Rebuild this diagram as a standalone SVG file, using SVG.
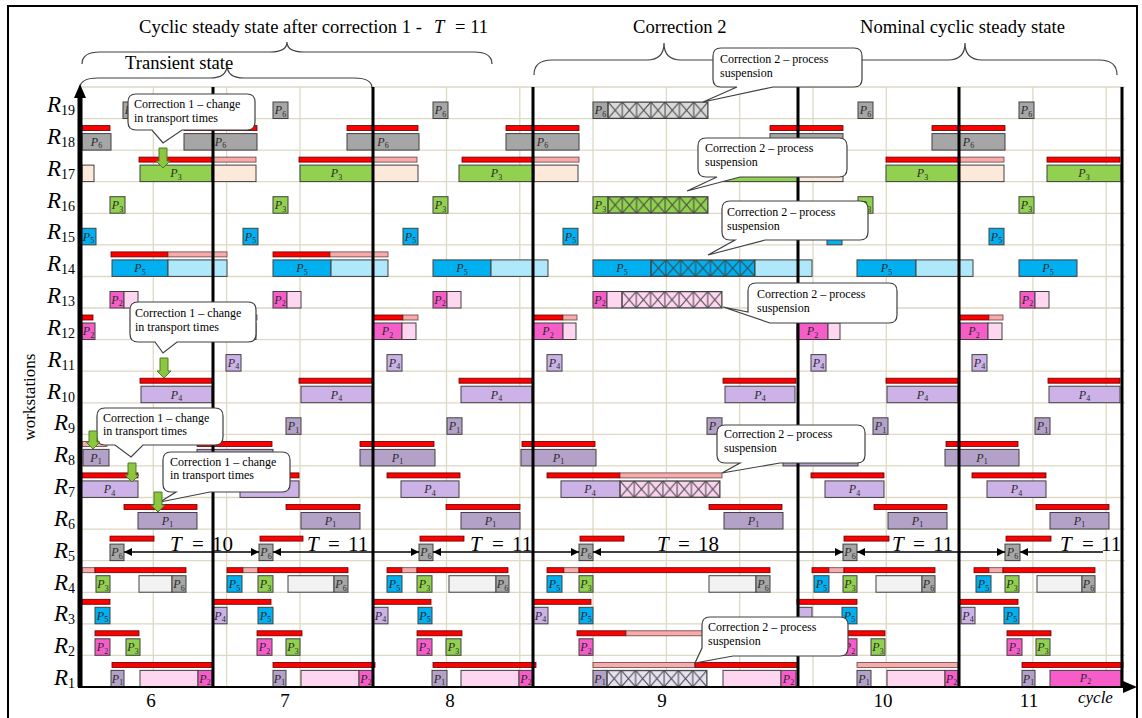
<svg xmlns="http://www.w3.org/2000/svg" width="1142" height="718" viewBox="0 0 1142 718">
<style>
.grid{stroke:#ddd9c3;stroke-width:1.3;fill:none}
.thick{stroke:#000;stroke-width:3;fill:none}
.row rect{stroke:#404040;stroke-width:1}
.row rect.r{fill:#ff0000;stroke:#5c0000;stroke-width:.8}
.row rect.k{fill:#f7abab;stroke:#6b4040;stroke-width:.8}
.g6{fill:#a6a6a6}.g3{fill:#92d050}.pc{fill:#fde9d9}.b5{fill:#00b0f0}.lb{fill:#aee8fa}.m2{fill:#f75dc9}.lp{fill:#ffd6f0}.v4{fill:#ccb2e6}.p1{fill:#b3a1c8}.lg{fill:#f2f2f2}
.pl{font-family:"Liberation Serif",serif;font-style:italic;font-size:12px;fill:#2a2a2a;text-anchor:middle;stroke:none}
.pl tspan{font-size:8px;font-style:normal}
.rl{font-family:"Liberation Serif",serif;font-style:italic;font-size:23px;fill:#000;text-anchor:end}
.rl tspan{font-size:14px;font-style:normal}
.tt{font-family:"Liberation Serif",serif;font-size:18.6px;fill:#000}
.co{fill:#fff;stroke:#404040;stroke-width:1.2}
.ct{font-family:"Liberation Serif",serif;font-size:12px;fill:#000}
.brace{fill:none;stroke:#404040;stroke-width:1.2}
.ga{fill:#8cc63f;stroke:#4f7a28;stroke-width:1}
.tm{font-family:"Liberation Serif",serif;font-size:21px;fill:#000}
.cn{font-family:"Liberation Serif",serif;font-size:19px;fill:#000;text-anchor:middle}
.arr{stroke:#000;stroke-width:1.3;fill:none}
</style>
<defs>
<marker id="ah" viewBox="0 0 10 10" refX="10" refY="5" markerWidth="8" markerHeight="8" markerUnits="userSpaceOnUse" orient="auto-start-reverse"><path d="M0,0L10,5L0,10z" fill="#000"/></marker>
<pattern id="x19" patternUnits="userSpaceOnUse" x="608" y="102" width="14.2857" height="16.5"><rect width="14.2857" height="16.5" fill="#d9d9d9" stroke="#404040" stroke-width="1"/><path d="M0,0L14.2857,16.5M0,16.5L14.2857,0" stroke="#404040" stroke-width="1"/></pattern>
<pattern id="x16" patternUnits="userSpaceOnUse" x="608" y="196.7" width="14.2857" height="16.5"><rect width="14.2857" height="16.5" fill="#92d050" stroke="#404040" stroke-width="1"/><path d="M0,0L14.2857,16.5M0,16.5L14.2857,0" stroke="#404040" stroke-width="1"/></pattern>
<pattern id="x14" patternUnits="userSpaceOnUse" x="651" y="259.9" width="14.857" height="16.5"><rect width="14.857" height="16.5" fill="#00b0f0" stroke="#404040" stroke-width="1"/><path d="M0,0L14.857,16.5M0,16.5L14.857,0" stroke="#404040" stroke-width="1"/></pattern>
<pattern id="x13" patternUnits="userSpaceOnUse" x="622" y="291.5" width="14.2857" height="16.5"><rect width="14.2857" height="16.5" fill="#ffd6f0" stroke="#404040" stroke-width="1"/><path d="M0,0L14.2857,16.5M0,16.5L14.2857,0" stroke="#404040" stroke-width="1"/></pattern>
<pattern id="x7" patternUnits="userSpaceOnUse" x="620" y="480.9" width="14.2857" height="16.5"><rect width="14.2857" height="16.5" fill="#f9d3ee" stroke="#404040" stroke-width="1"/><path d="M0,0L14.2857,16.5M0,16.5L14.2857,0" stroke="#404040" stroke-width="1"/></pattern>
<pattern id="x1" patternUnits="userSpaceOnUse" x="607" y="670.4" width="14.2857" height="16.5"><rect width="14.2857" height="16.5" fill="#e6e0f0" stroke="#404040" stroke-width="1"/><path d="M0,0L14.2857,16.5M0,16.5L14.2857,0" stroke="#404040" stroke-width="1"/></pattern>
</defs>
<rect x="0" y="0" width="1142" height="718" fill="#fff"/>
<rect x="8" y="6" width="1129" height="740" fill="none" stroke="#000" stroke-width="2"/>

<g id="grid" class="grid">
<path d="M80,655.4H1125M80,623.8H1125M80,592.3H1125M80,560.7H1125M80,529.1H1125M80,497.5H1125M80,465.9H1125M80,434.4H1125M80,402.8H1125M80,371.2H1125M80,339.6H1125M80,308H1125M80,276.5H1125M80,244.9H1125M80,213.3H1125M80,181.7H1125M80,150.1H1125M80,118.6H1125M80,87H1125"/>
<path d="M153.3,87V687M226.6,87V687M300,87V687M373.2,87V687M446.5,87V687M519.8,87V687M593,87V687M666.4,87V687M739.7,87V687M813,87V687M886.3,87V687M959.6,87V687M1032.9,87V687M1106.2,87V687"/>
</g>

<g id="titles">
<text class="tt" x="139" y="33">Cyclic steady state after correction 1 -<tspan x="434" font-style="italic">T</tspan><tspan x="455">= 11</tspan></text>
<text class="tt" x="633" y="33">Correction 2</text>
<text class="tt" x="860" y="33">Nominal cyclic steady state</text>
<text class="tt" x="125" y="69">Transient state</text>
<path class="brace" d="M82,64Q82,52 100,52H270Q287,52 287,42Q287,52 304,52H474Q492,52 492,64"/>
<path class="brace" d="M80,88Q80,78 98,78H210Q227,78 227,65Q227,78 244,78H354Q372,78 372,88"/>
<path class="brace" d="M534,75Q534,60 552,60H647Q664,60 664,43Q664,60 681,60H780Q798,60 798,75"/>
<path class="brace" d="M813,75Q813,60 831,60H948Q965,60 965,43Q965,60 982,60H1099Q1117,60 1117,75"/>
</g>

<g id="labels">
<text class="rl" x="75" y="112">R<tspan dy="3">19</tspan></text>
<text class="rl" x="75" y="143.8">R<tspan dy="3">18</tspan></text>
<text class="rl" x="75" y="175.7">R<tspan dy="3">17</tspan></text>
<text class="rl" x="75" y="207.5">R<tspan dy="3">16</tspan></text>
<text class="rl" x="75" y="239.3">R<tspan dy="3">15</tspan></text>
<text class="rl" x="75" y="271.2">R<tspan dy="3">14</tspan></text>
<text class="rl" x="75" y="303">R<tspan dy="3">13</tspan></text>
<text class="rl" x="75" y="334.8">R<tspan dy="3">12</tspan></text>
<text class="rl" x="75" y="366.6">R<tspan dy="3">11</tspan></text>
<text class="rl" x="75" y="398.5">R<tspan dy="3">10</tspan></text>
<text class="rl" x="75" y="430.3">R<tspan dy="3">9</tspan></text>
<text class="rl" x="75" y="462.1">R<tspan dy="3">8</tspan></text>
<text class="rl" x="75" y="494">R<tspan dy="3">7</tspan></text>
<text class="rl" x="75" y="525.8">R<tspan dy="3">6</tspan></text>
<text class="rl" x="75" y="557.6">R<tspan dy="3">5</tspan></text>
<text class="rl" x="75" y="589.5">R<tspan dy="3">4</tspan></text>
<text class="rl" x="75" y="621.3">R<tspan dy="3">3</tspan></text>
<text class="rl" x="75" y="653.1">R<tspan dy="3">2</tspan></text>
<text class="rl" x="75" y="685">R<tspan dy="3">1</tspan></text>
<text transform="translate(35,397) rotate(-90)" font-family="Liberation Serif, serif" font-size="17" text-anchor="middle">workstations</text>
<text class="cn" x="151" y="707">6</text>
<text class="cn" x="285" y="707">7</text>
<text class="cn" x="450" y="707">8</text>
<text class="cn" x="662" y="707">9</text>
<text class="cn" x="883" y="707">10</text>
<text class="cn" x="1029" y="707">11</text>
<text x="1078" y="703" font-family="Liberation Serif, serif" font-style="italic" font-size="17">cycle</text>
</g>

<g id="R19" class="row">
<rect class="g6" x="123" y="102" width="15" height="16.5"/><text class="pl" x="130.5" y="114.3">P<tspan dy="2.5">6</tspan></text>
<rect class="g6" x="273" y="102" width="15" height="16.5"/><text class="pl" x="280.5" y="114.3">P<tspan dy="2.5">6</tspan></text>
<rect class="g6" x="433" y="102" width="15" height="16.5"/><text class="pl" x="440.5" y="114.3">P<tspan dy="2.5">6</tspan></text>
<rect class="g6" x="593" y="102" width="15" height="16.5"/><text class="pl" x="600.5" y="114.3">P<tspan dy="2.5">6</tspan></text>
<rect x="608" y="102" width="100" height="16.5" fill="url(#x19)"/>
<rect class="g6" x="858" y="102" width="15" height="16.5"/><text class="pl" x="865.5" y="114.3">P<tspan dy="2.5">6</tspan></text>
<rect class="g6" x="1019" y="102" width="15" height="16.5"/><text class="pl" x="1026.5" y="114.3">P<tspan dy="2.5">6</tspan></text>
</g>

<g id="R18" class="row">
<rect class="r" x="82" y="125.6" width="28" height="5"/><rect class="g6" x="82" y="133.6" width="29" height="16.5"/><text class="pl" x="96.5" y="145.9">P<tspan dy="2.5">6</tspan></text>
<rect class="r" x="184" y="125.6" width="73" height="5"/><rect class="g6" x="184" y="133.6" width="73" height="16.5"/><text class="pl" x="220.5" y="145.9">P<tspan dy="2.5">6</tspan></text>
<rect class="r" x="347" y="125.6" width="71" height="5"/><rect class="g6" x="347" y="133.6" width="72" height="16.5"/><text class="pl" x="383" y="145.9">P<tspan dy="2.5">6</tspan></text>
<rect class="r" x="506" y="125.6" width="73" height="5"/><rect class="g6" x="506" y="133.6" width="73" height="16.5"/><text class="pl" x="542.5" y="145.9">P<tspan dy="2.5">6</tspan></text>
<rect class="r" x="770" y="125.6" width="73" height="5"/><rect class="g6" x="770" y="133.6" width="73" height="16.5"/>
<rect class="r" x="932" y="125.6" width="73" height="5"/><rect class="g6" x="932" y="133.6" width="73" height="16.5"/><text class="pl" x="968.5" y="145.9">P<tspan dy="2.5">6</tspan></text>
</g>

<g id="R17" class="row">
<rect class="pc" x="82" y="165.1" width="12" height="16.5"/>
<rect class="r" x="139" y="157.1" width="73" height="5"/><rect class="k" x="212" y="157.1" width="44" height="5"/><rect class="g3" x="140" y="165.1" width="72" height="16.5"/><rect class="pc" x="212" y="165.1" width="44" height="16.5"/><text class="pl" x="176" y="177.4">P<tspan dy="2.5">3</tspan></text>
<rect class="r" x="299" y="157.1" width="74" height="5"/><rect class="k" x="373" y="157.1" width="44" height="5"/><rect class="g3" x="300" y="165.1" width="73" height="16.5"/><rect class="pc" x="373" y="165.1" width="45" height="16.5"/><text class="pl" x="336.5" y="177.4">P<tspan dy="2.5">3</tspan></text>
<rect class="r" x="462" y="157.1" width="72" height="5"/><rect class="k" x="534" y="157.1" width="45" height="5"/><rect class="g3" x="459" y="165.1" width="75" height="16.5"/><rect class="pc" x="534" y="165.1" width="44" height="16.5"/><text class="pl" x="496.5" y="177.4">P<tspan dy="2.5">3</tspan></text>
<rect class="r" x="723" y="157.1" width="75" height="5"/><rect class="k" x="798" y="157.1" width="45" height="5"/><rect class="g3" x="723" y="165.1" width="75" height="16.5"/><rect class="pc" x="798" y="165.1" width="45" height="16.5"/>
<rect class="r" x="886" y="157.1" width="74" height="5"/><rect class="k" x="960" y="157.1" width="44" height="5"/><rect class="g3" x="886" y="165.1" width="73" height="16.5"/><rect class="pc" x="959" y="165.1" width="45" height="16.5"/><text class="pl" x="922.5" y="177.4">P<tspan dy="2.5">3</tspan></text>
<rect class="r" x="1047" y="157.1" width="73" height="5"/><rect class="g3" x="1047" y="165.1" width="74" height="16.5"/><text class="pl" x="1084" y="177.4">P<tspan dy="2.5">3</tspan></text>
</g>

<g id="R16" class="row">
<rect class="g3" x="110" y="196.7" width="15" height="16.5"/><text class="pl" x="117.5" y="209">P<tspan dy="2.5">3</tspan></text>
<rect class="g3" x="273" y="196.7" width="15" height="16.5"/><text class="pl" x="280.5" y="209">P<tspan dy="2.5">3</tspan></text>
<rect class="g3" x="433" y="196.7" width="15" height="16.5"/><text class="pl" x="440.5" y="209">P<tspan dy="2.5">3</tspan></text>
<rect class="g3" x="593" y="196.7" width="15" height="16.5"/><text class="pl" x="600.5" y="209">P<tspan dy="2.5">3</tspan></text>
<rect x="608" y="196.7" width="100" height="16.5" fill="url(#x16)"/>
<rect class="g3" x="858" y="196.7" width="15" height="16.5"/><text class="pl" x="865.5" y="209">P<tspan dy="2.5">3</tspan></text>
<rect class="g3" x="1019" y="196.7" width="15" height="16.5"/><text class="pl" x="1026.5" y="209">P<tspan dy="2.5">3</tspan></text>
</g>

<g id="R15" class="row">
<rect class="b5" x="81" y="228.3" width="15" height="16.5"/><text class="pl" x="88.5" y="240.6">P<tspan dy="2.5">5</tspan></text>
<rect class="b5" x="243" y="228.3" width="15" height="16.5"/><text class="pl" x="250.5" y="240.6">P<tspan dy="2.5">5</tspan></text>
<rect class="b5" x="403" y="228.3" width="15" height="16.5"/><text class="pl" x="410.5" y="240.6">P<tspan dy="2.5">5</tspan></text>
<rect class="b5" x="563" y="228.3" width="15" height="16.5"/><text class="pl" x="570.5" y="240.6">P<tspan dy="2.5">5</tspan></text>
<rect class="b5" x="827" y="228.3" width="15" height="16.5"/>
<rect class="b5" x="989" y="228.3" width="15" height="16.5"/><text class="pl" x="996.5" y="240.6">P<tspan dy="2.5">5</tspan></text>
</g>

<g id="R14" class="row">
<rect class="r" x="111" y="251.9" width="57" height="5"/><rect class="k" x="168" y="251.9" width="59" height="5"/><rect class="b5" x="112" y="259.9" width="56" height="16.5"/><rect class="lb" x="168" y="259.9" width="59" height="16.5"/><text class="pl" x="140" y="272.2">P<tspan dy="2.5">5</tspan></text>
<rect class="r" x="273" y="251.9" width="57" height="5"/><rect class="k" x="330" y="251.9" width="58" height="5"/><rect class="b5" x="273" y="259.9" width="58" height="16.5"/><rect class="lb" x="331" y="259.9" width="57" height="16.5"/><text class="pl" x="302" y="272.2">P<tspan dy="2.5">5</tspan></text>
<rect class="b5" x="433" y="259.9" width="58" height="16.5"/><rect class="lb" x="491" y="259.9" width="57" height="16.5"/><text class="pl" x="462" y="272.2">P<tspan dy="2.5">5</tspan></text>
<rect class="b5" x="593" y="259.9" width="58" height="16.5"/><rect x="651" y="259.9" width="104" height="16.5" fill="url(#x14)"/><rect class="lb" x="755" y="259.9" width="57" height="16.5"/><text class="pl" x="622" y="272.2">P<tspan dy="2.5">5</tspan></text>
<rect class="b5" x="857" y="259.9" width="59" height="16.5"/><rect class="lb" x="916" y="259.9" width="57" height="16.5"/><text class="pl" x="886.5" y="272.2">P<tspan dy="2.5">5</tspan></text>
<rect class="b5" x="1019" y="259.9" width="58" height="16.5"/><text class="pl" x="1048" y="272.2">P<tspan dy="2.5">5</tspan></text>
</g>

<g id="R13" class="row">
<rect class="m2" x="110" y="291.5" width="14" height="16.5"/><rect class="lp" x="124" y="291.5" width="14" height="16.5"/><text class="pl" x="117" y="303.8">P<tspan dy="2.5">2</tspan></text>
<rect class="m2" x="273" y="291.5" width="14" height="16.5"/><rect class="lp" x="287" y="291.5" width="14" height="16.5"/><text class="pl" x="280" y="303.8">P<tspan dy="2.5">2</tspan></text>
<rect class="m2" x="433" y="291.5" width="14" height="16.5"/><rect class="lp" x="447" y="291.5" width="14" height="16.5"/><text class="pl" x="440" y="303.8">P<tspan dy="2.5">2</tspan></text>
<rect class="m2" x="593" y="291.5" width="14" height="16.5"/><rect class="lp" x="607" y="291.5" width="15" height="16.5"/><rect x="622" y="291.5" width="100" height="16.5" fill="url(#x13)"/><text class="pl" x="600" y="303.8">P<tspan dy="2.5">2</tspan></text>
<rect class="m2" x="858" y="291.5" width="14" height="16.5"/><rect class="lp" x="872" y="291.5" width="14" height="16.5"/>
<rect class="m2" x="1020" y="291.5" width="15" height="16.5"/><rect class="lp" x="1035" y="291.5" width="14" height="16.5"/><text class="pl" x="1027.5" y="303.8">P<tspan dy="2.5">2</tspan></text>
</g>

<g id="R12" class="row">
<rect class="r" x="82" y="315" width="11" height="5"/><rect class="m2" x="82" y="323" width="13" height="16.5"/><text class="pl" x="88.5" y="335.3">P<tspan dy="2.5">2</tspan></text>
<rect class="r" x="213" y="315" width="29" height="5"/><rect class="k" x="242" y="315" width="15" height="5"/><rect class="m2" x="213" y="323" width="29" height="16.5"/><rect class="lp" x="242" y="323" width="14" height="16.5"/>
<rect class="r" x="373" y="315" width="30" height="5"/><rect class="k" x="403" y="315" width="15" height="5"/><rect class="m2" x="373" y="323" width="29" height="16.5"/><rect class="lp" x="402" y="323" width="14" height="16.5"/><text class="pl" x="387.5" y="335.3">P<tspan dy="2.5">2</tspan></text>
<rect class="r" x="534" y="315" width="29" height="5"/><rect class="k" x="563" y="315" width="14" height="5"/><rect class="m2" x="533" y="323" width="30" height="16.5"/><rect class="lp" x="563" y="323" width="13" height="16.5"/><text class="pl" x="548" y="335.3">P<tspan dy="2.5">2</tspan></text>
<rect class="r" x="797" y="315" width="31" height="5"/><rect class="k" x="828" y="315" width="14" height="5"/><rect class="m2" x="797" y="323" width="31" height="16.5"/><rect class="lp" x="828" y="323" width="12" height="16.5"/><text class="pl" x="812.5" y="335.3">P<tspan dy="2.5">2</tspan></text>
<rect class="r" x="960" y="315" width="29" height="5"/><rect class="k" x="989" y="315" width="14" height="5"/><rect class="m2" x="960" y="323" width="28" height="16.5"/><rect class="lp" x="988" y="323" width="14" height="16.5"/><text class="pl" x="974" y="335.3">P<tspan dy="2.5">2</tspan></text>
</g>

<g id="R11" class="row">
<rect class="v4" x="226" y="354.6" width="15" height="16.5"/><text class="pl" x="233.5" y="366.9">P<tspan dy="2.5">4</tspan></text>
<rect class="v4" x="387" y="354.6" width="15" height="16.5"/><text class="pl" x="394.5" y="366.9">P<tspan dy="2.5">4</tspan></text>
<rect class="v4" x="547" y="354.6" width="15" height="16.5"/><text class="pl" x="554.5" y="366.9">P<tspan dy="2.5">4</tspan></text>
<rect class="v4" x="811" y="354.6" width="15" height="16.5"/><text class="pl" x="818.5" y="366.9">P<tspan dy="2.5">4</tspan></text>
<rect class="v4" x="972" y="354.6" width="15" height="16.5"/><text class="pl" x="979.5" y="366.9">P<tspan dy="2.5">4</tspan></text>
</g>

<g id="R10" class="row">
<rect class="r" x="140" y="378.2" width="72" height="5"/><rect class="v4" x="141" y="386.2" width="71" height="16.5"/><text class="pl" x="176.5" y="398.5">P<tspan dy="2.5">4</tspan></text>
<rect class="r" x="299" y="378.2" width="73" height="5"/><rect class="v4" x="301" y="386.2" width="71" height="16.5"/><text class="pl" x="336.5" y="398.5">P<tspan dy="2.5">4</tspan></text>
<rect class="r" x="459" y="378.2" width="73" height="5"/><rect class="v4" x="461" y="386.2" width="71" height="16.5"/><text class="pl" x="496.5" y="398.5">P<tspan dy="2.5">4</tspan></text>
<rect class="r" x="723" y="378.2" width="73" height="5"/><rect class="v4" x="725" y="386.2" width="70" height="16.5"/><text class="pl" x="760" y="398.5">P<tspan dy="2.5">4</tspan></text>
<rect class="r" x="886" y="378.2" width="72" height="5"/><rect class="v4" x="887" y="386.2" width="71" height="16.5"/><text class="pl" x="922.5" y="398.5">P<tspan dy="2.5">4</tspan></text>
<rect class="r" x="1048" y="378.2" width="72" height="5"/><rect class="v4" x="1049" y="386.2" width="71" height="16.5"/><text class="pl" x="1084.5" y="398.5">P<tspan dy="2.5">4</tspan></text>
</g>

<g id="R9" class="row">
<rect class="p1" x="286" y="417.8" width="15" height="16.5"/><text class="pl" x="293.5" y="430.1">P<tspan dy="2.5">1</tspan></text>
<rect class="p1" x="447" y="417.8" width="15" height="16.5"/><text class="pl" x="454.5" y="430.1">P<tspan dy="2.5">1</tspan></text>
<rect class="p1" x="707" y="417.8" width="15" height="16.5"/><text class="pl" x="714.5" y="430.1">P<tspan dy="2.5">1</tspan></text>
<rect class="p1" x="873" y="417.8" width="15" height="16.5"/><text class="pl" x="880.5" y="430.1">P<tspan dy="2.5">1</tspan></text>
<rect class="p1" x="1035" y="417.8" width="15" height="16.5"/><text class="pl" x="1042.5" y="430.1">P<tspan dy="2.5">1</tspan></text>
</g>

<g id="R8" class="row">
<rect class="k" x="82" y="441.4" width="25" height="5"/><rect class="p1" x="83" y="449.4" width="26" height="16.5"/><text class="pl" x="96" y="461.7">P<tspan dy="2.5">1</tspan></text>
<rect class="r" x="197" y="441.4" width="75" height="5"/><rect class="p1" x="197" y="449.4" width="76" height="16.5"/>
<rect class="r" x="360" y="441.4" width="74" height="5"/><rect class="p1" x="360" y="449.4" width="75" height="16.5"/><text class="pl" x="397.5" y="461.7">P<tspan dy="2.5">1</tspan></text>
<rect class="r" x="522" y="441.4" width="73" height="5"/><rect class="p1" x="521" y="449.4" width="75" height="16.5"/><text class="pl" x="558.5" y="461.7">P<tspan dy="2.5">1</tspan></text>
<rect class="r" x="783" y="441.4" width="75" height="5"/><rect class="p1" x="783" y="449.4" width="75" height="16.5"/>
<rect class="r" x="946" y="441.4" width="72" height="5"/><rect class="p1" x="945" y="449.4" width="74" height="16.5"/><text class="pl" x="982" y="461.7">P<tspan dy="2.5">1</tspan></text>
</g>

<g id="R7" class="row">
<rect class="r" x="82" y="472.9" width="56" height="5"/><rect class="v4" x="81" y="480.9" width="57" height="16.5"/><text class="pl" x="109.5" y="493.2">P<tspan dy="2.5">4</tspan></text>
<rect class="r" x="227" y="472.9" width="72" height="5"/><rect class="v4" x="240" y="480.9" width="59" height="16.5"/>
<rect class="r" x="387" y="472.9" width="73" height="5"/><rect class="v4" x="401" y="480.9" width="58" height="16.5"/><text class="pl" x="430" y="493.2">P<tspan dy="2.5">4</tspan></text>
<rect class="r" x="547" y="472.9" width="73" height="5"/><rect class="k" x="620" y="472.9" width="102" height="5"/><rect class="v4" x="561" y="480.9" width="59" height="16.5"/><rect x="620" y="480.9" width="100" height="16.5" fill="url(#x7)"/><text class="pl" x="590" y="493.2">P<tspan dy="2.5">4</tspan></text>
<rect class="r" x="811" y="472.9" width="73" height="5"/><rect class="v4" x="825" y="480.9" width="59" height="16.5"/><text class="pl" x="854.5" y="493.2">P<tspan dy="2.5">4</tspan></text>
<rect class="r" x="972" y="472.9" width="74" height="5"/><rect class="v4" x="987" y="480.9" width="59" height="16.5"/><text class="pl" x="1016.5" y="493.2">P<tspan dy="2.5">4</tspan></text>
</g>

<g id="R6" class="row">
<rect class="r" x="124" y="504.5" width="73" height="5"/><rect class="p1" x="138" y="512.5" width="59" height="16.5"/><text class="pl" x="167.5" y="524.8">P<tspan dy="2.5">1</tspan></text>
<rect class="r" x="286" y="504.5" width="74" height="5"/><rect class="p1" x="301" y="512.5" width="59" height="16.5"/><text class="pl" x="330.5" y="524.8">P<tspan dy="2.5">1</tspan></text>
<rect class="r" x="446" y="504.5" width="74" height="5"/><rect class="p1" x="461" y="512.5" width="59" height="16.5"/><text class="pl" x="490.5" y="524.8">P<tspan dy="2.5">1</tspan></text>
<rect class="r" x="709" y="504.5" width="73" height="5"/><rect class="p1" x="724" y="512.5" width="59" height="16.5"/><text class="pl" x="753.5" y="524.8">P<tspan dy="2.5">1</tspan></text>
<rect class="r" x="874" y="504.5" width="73" height="5"/><rect class="p1" x="888" y="512.5" width="59" height="16.5"/><text class="pl" x="917.5" y="524.8">P<tspan dy="2.5">1</tspan></text>
<rect class="r" x="1036" y="504.5" width="73" height="5"/><rect class="p1" x="1050" y="512.5" width="59" height="16.5"/><text class="pl" x="1079.5" y="524.8">P<tspan dy="2.5">1</tspan></text>
</g>

<g id="R5" class="row">
<rect class="r" x="110" y="536.1" width="44" height="5"/><rect class="g6" x="110" y="544.1" width="14" height="16.5"/><text class="pl" x="117" y="556.4">P<tspan dy="2.5">6</tspan></text>
<rect class="r" x="260" y="536.1" width="43" height="5"/><rect class="g6" x="259" y="544.1" width="14" height="16.5"/><text class="pl" x="266" y="556.4">P<tspan dy="2.5">6</tspan></text>
<rect class="r" x="420" y="536.1" width="44" height="5"/><rect class="g6" x="419" y="544.1" width="14" height="16.5"/><text class="pl" x="426" y="556.4">P<tspan dy="2.5">6</tspan></text>
<rect class="r" x="580" y="536.1" width="44" height="5"/><rect class="g6" x="579" y="544.1" width="14" height="16.5"/><text class="pl" x="586" y="556.4">P<tspan dy="2.5">6</tspan></text>
<rect class="r" x="844" y="536.1" width="45" height="5"/><rect class="g6" x="843" y="544.1" width="14" height="16.5"/><text class="pl" x="850" y="556.4">P<tspan dy="2.5">6</tspan></text>
<rect class="r" x="1006" y="536.1" width="45" height="5"/><rect class="g6" x="1005" y="544.1" width="15" height="16.5"/><text class="pl" x="1012.5" y="556.4">P<tspan dy="2.5">6</tspan></text>
</g>

<g id="R4" class="row">
<rect class="k" x="82" y="567.7" width="13" height="5"/><rect class="r" x="95" y="567.7" width="91" height="5"/>
<rect class="g3" x="96" y="575.7" width="14" height="16.5"/><text class="pl" x="103" y="588">P<tspan dy="2.5">3</tspan></text>
<rect class="lg" x="139" y="575.7" width="33" height="16.5"/><rect class="g6" x="172" y="575.7" width="14" height="16.5"/><text class="pl" x="179" y="588">P<tspan dy="2.5">6</tspan></text>
<rect class="r" x="227" y="567.7" width="16" height="5"/><rect class="k" x="243" y="567.7" width="15" height="5"/><rect class="r" x="258" y="567.7" width="90" height="5"/>
<rect class="b5" x="227" y="575.7" width="15" height="16.5"/><text class="pl" x="234.5" y="588">P<tspan dy="2.5">5</tspan></text>
<rect class="g3" x="258" y="575.7" width="15" height="16.5"/><text class="pl" x="265.5" y="588">P<tspan dy="2.5">3</tspan></text>
<rect class="lg" x="288" y="575.7" width="46" height="16.5"/><rect class="g6" x="334" y="575.7" width="14" height="16.5"/><text class="pl" x="341" y="588">P<tspan dy="2.5">6</tspan></text>
<rect class="r" x="387" y="567.7" width="15" height="5"/><rect class="k" x="402" y="567.7" width="15" height="5"/><rect class="r" x="417" y="567.7" width="91" height="5"/>
<rect class="b5" x="387" y="575.7" width="15" height="16.5"/><text class="pl" x="394.5" y="588">P<tspan dy="2.5">5</tspan></text>
<rect class="g3" x="417" y="575.7" width="15" height="16.5"/><text class="pl" x="424.5" y="588">P<tspan dy="2.5">3</tspan></text>
<rect class="lg" x="449" y="575.7" width="47" height="16.5"/><rect class="g6" x="496" y="575.7" width="13" height="16.5"/><text class="pl" x="502.5" y="588">P<tspan dy="2.5">6</tspan></text>
<rect class="r" x="547" y="567.7" width="17" height="5"/><rect class="k" x="564" y="567.7" width="15" height="5"/><rect class="r" x="579" y="567.7" width="191" height="5"/>
<rect class="b5" x="547" y="575.7" width="15" height="16.5"/><text class="pl" x="554.5" y="588">P<tspan dy="2.5">5</tspan></text>
<rect class="g3" x="579" y="575.7" width="14" height="16.5"/><text class="pl" x="586" y="588">P<tspan dy="2.5">3</tspan></text>
<rect class="lg" x="709" y="575.7" width="47" height="16.5"/><rect class="g6" x="756" y="575.7" width="14" height="16.5"/><text class="pl" x="763" y="588">P<tspan dy="2.5">6</tspan></text>
<rect class="r" x="812" y="567.7" width="17" height="5"/><rect class="k" x="829" y="567.7" width="15" height="5"/><rect class="r" x="844" y="567.7" width="91" height="5"/>
<rect class="b5" x="814" y="575.7" width="15" height="16.5"/><text class="pl" x="821.5" y="588">P<tspan dy="2.5">5</tspan></text>
<rect class="g3" x="843" y="575.7" width="14" height="16.5"/><text class="pl" x="850" y="588">P<tspan dy="2.5">3</tspan></text>
<rect class="lg" x="876" y="575.7" width="46" height="16.5"/><rect class="g6" x="922" y="575.7" width="13" height="16.5"/><text class="pl" x="928.5" y="588">P<tspan dy="2.5">6</tspan></text>
<rect class="r" x="974" y="567.7" width="15" height="5"/><rect class="k" x="989" y="567.7" width="14" height="5"/><rect class="r" x="1003" y="567.7" width="92" height="5"/>
<rect class="b5" x="976" y="575.7" width="15" height="16.5"/><text class="pl" x="983.5" y="588">P<tspan dy="2.5">5</tspan></text>
<rect class="g3" x="1005" y="575.7" width="14" height="16.5"/><text class="pl" x="1012" y="588">P<tspan dy="2.5">3</tspan></text>
<rect class="lg" x="1037" y="575.7" width="45" height="16.5"/><rect class="g6" x="1082" y="575.7" width="13" height="16.5"/><text class="pl" x="1088.5" y="588">P<tspan dy="2.5">6</tspan></text>
</g>

<g id="R3" class="row">
<rect class="r" x="82" y="599.3" width="28" height="5"/><rect class="b5" x="95" y="607.3" width="15" height="16.5"/><text class="pl" x="102.5" y="619.6">P<tspan dy="2.5">5</tspan></text>
<rect class="r" x="213" y="599.3" width="58" height="5"/><rect class="v4" x="213" y="607.3" width="14" height="16.5"/><text class="pl" x="220" y="619.6">P<tspan dy="2.5">4</tspan></text><rect class="b5" x="258" y="607.3" width="15" height="16.5"/><text class="pl" x="265.5" y="619.6">P<tspan dy="2.5">5</tspan></text>
<rect class="r" x="373" y="599.3" width="58" height="5"/><rect class="v4" x="373" y="607.3" width="15" height="16.5"/><text class="pl" x="380.5" y="619.6">P<tspan dy="2.5">4</tspan></text><rect class="b5" x="418" y="607.3" width="14" height="16.5"/><text class="pl" x="425" y="619.6">P<tspan dy="2.5">5</tspan></text>
<rect class="r" x="533" y="599.3" width="58" height="5"/><rect class="v4" x="533" y="607.3" width="15" height="16.5"/><text class="pl" x="540.5" y="619.6">P<tspan dy="2.5">4</tspan></text><rect class="b5" x="579" y="607.3" width="14" height="16.5"/><text class="pl" x="586" y="619.6">P<tspan dy="2.5">5</tspan></text>
<rect class="r" x="797" y="599.3" width="60" height="5"/><rect class="v4" x="798" y="607.3" width="14" height="16.5"/><rect class="b5" x="842" y="607.3" width="15" height="16.5"/><text class="pl" x="849.5" y="619.6">P<tspan dy="2.5">5</tspan></text>
<rect class="r" x="960" y="599.3" width="58" height="5"/><rect class="v4" x="961" y="607.3" width="14" height="16.5"/><text class="pl" x="968" y="619.6">P<tspan dy="2.5">4</tspan></text><rect class="b5" x="1004" y="607.3" width="15" height="16.5"/><text class="pl" x="1011.5" y="619.6">P<tspan dy="2.5">5</tspan></text>
</g>

<g id="R2" class="row">
<rect class="r" x="95" y="630.8" width="44" height="5"/><rect class="m2" x="95" y="638.8" width="15" height="16.5"/><text class="pl" x="102.5" y="651.1">P<tspan dy="2.5">2</tspan></text><rect class="g3" x="126" y="638.8" width="14" height="16.5"/><text class="pl" x="133" y="651.1">P<tspan dy="2.5">3</tspan></text>
<rect class="r" x="257" y="630.8" width="45" height="5"/><rect class="m2" x="257" y="638.8" width="15" height="16.5"/><text class="pl" x="264.5" y="651.1">P<tspan dy="2.5">2</tspan></text><rect class="g3" x="286" y="638.8" width="14" height="16.5"/><text class="pl" x="293" y="651.1">P<tspan dy="2.5">3</tspan></text>
<rect class="r" x="417" y="630.8" width="45" height="5"/><rect class="m2" x="417" y="638.8" width="15" height="16.5"/><text class="pl" x="424.5" y="651.1">P<tspan dy="2.5">2</tspan></text><rect class="g3" x="446" y="638.8" width="15" height="16.5"/><text class="pl" x="453.5" y="651.1">P<tspan dy="2.5">3</tspan></text>
<rect class="r" x="577" y="630.8" width="49" height="5"/><rect class="k" x="626" y="630.8" width="102" height="5"/><rect class="m2" x="579" y="638.8" width="14" height="16.5"/><text class="pl" x="586" y="651.1">P<tspan dy="2.5">2</tspan></text>
<rect class="r" x="842" y="630.8" width="43" height="5"/><rect class="m2" x="842" y="638.8" width="15" height="16.5"/><text class="pl" x="849.5" y="651.1">P<tspan dy="2.5">2</tspan></text><rect class="g3" x="871" y="638.8" width="14" height="16.5"/><text class="pl" x="878" y="651.1">P<tspan dy="2.5">3</tspan></text>
<rect class="r" x="1007" y="630.8" width="44" height="5"/><rect class="m2" x="1007" y="638.8" width="15" height="16.5"/><text class="pl" x="1014.5" y="651.1">P<tspan dy="2.5">2</tspan></text><rect class="g3" x="1036" y="638.8" width="14" height="16.5"/><text class="pl" x="1043" y="651.1">P<tspan dy="2.5">3</tspan></text>
</g>

<g id="R1" class="row">
<rect class="r" x="112" y="662.4" width="100" height="5"/><rect class="p1" x="111" y="670.4" width="13" height="16.5"/><text class="pl" x="117.5" y="682.7">P<tspan dy="2.5">1</tspan></text><rect class="lp" x="140" y="670.4" width="58" height="16.5"/><rect class="m2" x="198" y="670.4" width="14" height="16.5"/><text class="pl" x="205" y="682.7">P<tspan dy="2.5">2</tspan></text>
<rect class="r" x="273" y="662.4" width="102" height="5"/><rect class="p1" x="273" y="670.4" width="13" height="16.5"/><text class="pl" x="279.5" y="682.7">P<tspan dy="2.5">1</tspan></text><rect class="lp" x="301" y="670.4" width="58" height="16.5"/><rect class="m2" x="359" y="670.4" width="14" height="16.5"/><text class="pl" x="366" y="682.7">P<tspan dy="2.5">2</tspan></text>
<rect class="r" x="433" y="662.4" width="103" height="5"/><rect class="p1" x="432" y="670.4" width="15" height="16.5"/><text class="pl" x="439.5" y="682.7">P<tspan dy="2.5">1</tspan></text><rect class="lp" x="461" y="670.4" width="58" height="16.5"/><rect class="m2" x="519" y="670.4" width="14" height="16.5"/><text class="pl" x="526" y="682.7">P<tspan dy="2.5">2</tspan></text>
<rect class="k" x="593" y="662.4" width="102" height="5"/><rect class="r" x="695" y="662.4" width="103" height="5"/><rect class="p1" x="593" y="670.4" width="14" height="16.5"/><text class="pl" x="600" y="682.7">P<tspan dy="2.5">1</tspan></text><rect x="607" y="670.4" width="100" height="16.5" fill="url(#x1)"/><rect class="lp" x="723" y="670.4" width="58" height="16.5"/><rect class="m2" x="781" y="670.4" width="15" height="16.5"/><text class="pl" x="788.5" y="682.7">P<tspan dy="2.5">2</tspan></text>
<rect class="k" x="857" y="662.4" width="101" height="5"/><rect class="p1" x="857" y="670.4" width="14" height="16.5"/><text class="pl" x="864" y="682.7">P<tspan dy="2.5">1</tspan></text><rect class="lp" x="887" y="670.4" width="58" height="16.5"/><rect class="m2" x="945" y="670.4" width="13" height="16.5"/><text class="pl" x="951.5" y="682.7">P<tspan dy="2.5">2</tspan></text>
<rect class="r" x="1022" y="662.4" width="101" height="5"/><rect class="p1" x="1022" y="670.4" width="13" height="16.5"/><text class="pl" x="1028.5" y="682.7">P<tspan dy="2.5">1</tspan></text><rect class="m2" x="1050" y="670.4" width="71" height="16.5"/><text class="pl" x="1085.5" y="682">P<tspan dy="2">2</tspan></text>
</g>

<g id="cycle-lines" class="thick">
<path d="M213,87V687M373,87V687M533,87V687M798,87V687M959,87V687M1122,87V687"/>
</g>

<g id="axes">
<path d="M80,687V96" stroke="#000" stroke-width="5"/>
<polygon points="80,84 86,98 74,98" fill="#000"/>
<path d="M78,687H1124" stroke="#000" stroke-width="2"/>
<polygon points="1137,687 1123,681 1123,693" fill="#000"/>
</g>

<g id="connectors">
<path class="arr" d="M124,552H259" marker-start="url(#ah)" marker-end="url(#ah)"/>
<path class="arr" d="M273,552H419" marker-start="url(#ah)" marker-end="url(#ah)"/>
<path class="arr" d="M433,552H579" marker-start="url(#ah)" marker-end="url(#ah)"/>
<path class="arr" d="M593,552H843" marker-start="url(#ah)" marker-end="url(#ah)"/>
<path class="arr" d="M857,552H1005" marker-start="url(#ah)" marker-end="url(#ah)"/>
<path class="arr" d="M1020,552H1103" marker-start="url(#ah)"/>
<text class="tm" y="551"><tspan x="170" font-style="italic">T</tspan><tspan x="192">=</tspan><tspan x="212">10</tspan></text>
<text class="tm" y="551"><tspan x="307" font-style="italic">T</tspan><tspan x="328">=</tspan><tspan x="348">11</tspan></text>
<text class="tm" y="551"><tspan x="470" font-style="italic">T</tspan><tspan x="492">=</tspan><tspan x="512">11</tspan></text>
<text class="tm" y="551"><tspan x="657" font-style="italic">T</tspan><tspan x="678">=</tspan><tspan x="698">18</tspan></text>
<text class="tm" y="551"><tspan x="892" font-style="italic">T</tspan><tspan x="913">=</tspan><tspan x="933">11</tspan></text>
<text class="tm" y="551"><tspan x="1060" font-style="italic">T</tspan><tspan x="1082">=</tspan><tspan x="1101">11</tspan></text>
</g>

<g id="callout-c1a">
<path class="co" d="M136,94H247Q255,94 255,102V122Q255,130 247,130H182L163,143L152,130H136Q128,130 128,122V102Q128,94 136,94Z"/>
<text class="ct" x="134" y="108">Correction 1 – change</text>
<text class="ct" x="134" y="122">in transport times</text>
<path class="ga" d="M159,148H167V161H170L163,168L156,161H159Z"/>
</g>
<g id="callout-c1b">
<path class="co" d="M138,302H248Q256,302 256,310V334Q256,342 248,342H177L163,353L155,342H138Q130,342 130,334V310Q130,302 138,302Z"/>
<text class="ct" x="135" y="317">Correction 1 – change</text>
<text class="ct" x="135" y="331">in transport times</text>
<path class="ga" d="M160,358H168V371H171L164,378L157,371H160Z"/>
</g>
<g id="callout-c1c">
<path class="co" d="M105,408H215Q223,408 223,416V437Q223,445 215,445H143L131,457L115,445H105Q97,445 97,437V416Q97,408 105,408Z"/>
<text class="ct" x="103" y="422">Correction 1 – change</text>
<text class="ct" x="103" y="435">in transport times</text>
<path class="ga" d="M89,431H97V442H100L93,449L86,442H89Z"/>
<path class="ga" d="M128,463H136V475H139L132,482L125,475H128Z"/>
</g>
<g id="callout-c1d">
<path class="co" d="M171,452H282Q290,452 290,460V484Q290,492 282,492H210L160,502L176,492H171Q163,492 163,484V460Q163,452 171,452Z"/>
<text class="ct" x="170" y="466">Correction 1 – change</text>
<text class="ct" x="170" y="479">in transport times</text>
<path class="ga" d="M154,492H162V505H165L158,512L151,505H154Z"/>
</g>

<g id="callout-c2a">
<path class="co" d="M721,48H854Q862,48 862,56V79Q862,87 854,87H773L703,102L737,87H721Q713,87 713,79V56Q713,48 721,48Z"/>
<text class="ct" x="720" y="63">Correction 2 – process</text>
<text class="ct" x="720" y="77">suspension</text>
</g>
<g id="callout-c2b">
<path class="co" d="M706,138H839Q847,138 847,146V169Q847,177 839,177H740L687,191L717,177H706Q698,177 698,169V146Q698,138 706,138Z"/>
<text class="ct" x="705" y="152">Correction 2 – process</text>
<text class="ct" x="705" y="166">suspension</text>
</g>
<g id="callout-c2c">
<path class="co" d="M730,201H860Q868,201 868,209V232Q868,240 860,240H765L708,255L735,240H730Q722,240 722,232V209Q722,201 730,201Z"/>
<text class="ct" x="727" y="216">Correction 2 – process</text>
<text class="ct" x="727" y="230">suspension</text>
</g>
<g id="callout-c2d">
<path class="co" d="M756,283H889Q897,283 897,291V315Q897,323 889,323H770L723,307L748,312V291Q748,283 756,283Z"/>
<text class="ct" x="757" y="298">Correction 2 – process</text>
<text class="ct" x="757" y="312">suspension</text>
</g>
<g id="callout-c2e">
<path class="co" d="M725,425H857Q865,425 865,433V455Q865,463 857,463H780L722,473L740,463H725Q717,463 717,455V433Q717,425 725,425Z"/>
<text class="ct" x="724" y="438">Correction 2 – process</text>
<text class="ct" x="724" y="452">suspension</text>
</g>
<g id="callout-c2f">
<path class="co" d="M710,617H840Q848,617 848,625V648Q848,656 840,656H733L695,663L702,648V625Q702,617 710,617Z"/>
<text class="ct" x="708" y="631">Correction 2 – process</text>
<text class="ct" x="708" y="645">suspension</text>
</g>
</svg>
